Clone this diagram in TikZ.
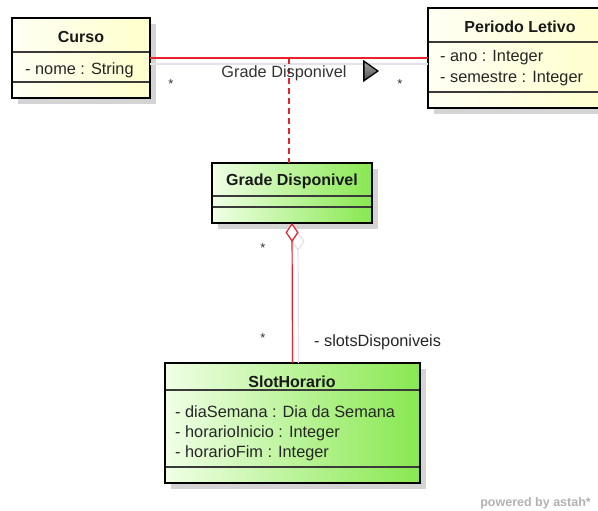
\documentclass[tikz,border=0pt]{standalone}
\usepackage{fontspec}
\setmainfont{Liberation Sans}
\usetikzlibrary{arrows.meta, shapes.geometric}

\definecolor{umlred}{HTML}{E8212B}
\definecolor{paleline}{HTML}{E6E0EA}
\definecolor{boxshade}{HTML}{D4D4D4}
\definecolor{yelL}{HTML}{FFFFF4}
\definecolor{yelR}{HTML}{FFFFCC}
\definecolor{grnL}{HTML}{F0FFE6}
\definecolor{grnR}{HTML}{88E850}
\definecolor{sepgray}{HTML}{3A3A3A}

\tikzset{
  classbox/.style={draw=black, line width=2.4pt, rectangle, anchor=north west,
    inner sep=0pt, outer sep=0pt},
  yellowfill/.style={left color=yelL, right color=yelR},
  greenfill/.style={left color=grnL, right color=grnR},
  title/.style={font=\fontsize{16}{18}\selectfont\bfseries, inner sep=0pt, text=black!90},
  attr/.style={font=\fontsize{16.3}{18}\selectfont, anchor=west, inner sep=0pt, text=black!85},
  mult/.style={font=\fontsize{13}{14}\selectfont, inner sep=0pt, text=black!80},
  sepline/.style={draw=sepgray, line width=1.2pt},
  assoc/.style={draw=umlred, line width=1.2pt},
  shadowline/.style={draw=paleline, line width=1.2pt},
  boxshadow/.style={fill=boxshade},
}

\begin{document}
\begin{tikzpicture}[x=1pt, y=-1pt]
\useasboundingbox (0,0) rectangle (598,511);

% drop shadows of the class boxes
\fill[boxshadow] (18,24) rectangle (156,104);
\fill[boxshadow] (434,14) rectangle (618,114);
\fill[boxshadow] (218,169) rectangle (378,229);
\fill[boxshadow] (171,369) rectangle (426,489);

% class boxes
\node[classbox, yellowfill, minimum width=138pt, minimum height=80pt] (curso) at (12,18) {};
\node[classbox, yellowfill, minimum width=184pt, minimum height=100pt] (periodo) at (428,8) {};
\node[classbox, greenfill, minimum width=160pt, minimum height=60pt] (grade) at (212,163) {};
\node[classbox, greenfill, minimum width=255pt, minimum height=120pt] (slot) at (165,363) {};

% compartment separators
\draw[sepline] (12,52) -- (150,52);
\draw[sepline] (12,82) -- (150,82);
\draw[sepline] (428,42) -- (612,42);
\draw[sepline] (428,92) -- (612,92);
\draw[sepline] (212,196) -- (372,196);
\draw[sepline] (212,207) -- (372,207);
\draw[sepline] (165,390) -- (420,390);
\draw[sepline] (165,467) -- (420,467);

% redraw the outer borders over the separators
\draw[line width=2.4pt] (curso.north west) rectangle (curso.south east);
\draw[line width=2.4pt] (periodo.north west) rectangle (periodo.south east);
\draw[line width=2.4pt] (grade.north west) rectangle (grade.south east);
\draw[line width=2.4pt] (slot.north west) rectangle (slot.south east);

% class names
\node[title] (cursoT) at (81,37) {Curso};
\node[title] (periodoT) at (520,27) {Periodo Letivo};
\node[title] (gradeT) at (292,181) {Grade Disponivel};
\node[title] (slotT) at (292,382) {SlotHorario};

% attributes
\node[attr] (a1) at (25,70) {- nome : String};
\node[attr] (a2) at (440,58) {- ano : Integer};
\node[attr] (a3) at (440,79) {- semestre : Integer};
\node[attr] (a4) at (175,412) {- diaSemana : Dia da Semana};
\node[attr] (a5) at (175,433) {- horarioInicio : Integer};
\node[attr] (a6) at (175,453) {- horarioFim : Integer};

% association Curso -- Periodo Letivo
\draw[shadowline] ([yshift=-6pt]curso.east) -- ([yshift=-6pt]periodo.west);
\draw[assoc] (curso.east) -- (periodo.west);
\coordinate (ac) at (289,58);
\draw[assoc, dash pattern=on 6pt off 4pt] (ac) -- (ac |- grade.north);

\node[attr, anchor=center, text=black!80] (alabel) at (284,73) {Grade Disponivel};
\node[draw=black, line width=1.3pt, isosceles triangle, shading=axis, top color=black!35,
  bottom color=black!70, inner sep=0pt, minimum height=14pt, minimum width=14pt,
  isosceles triangle apex angle=70] (dir) at (369,71) {};

\node[mult] (m1) at (171,84) {*};
\node[mult] (m2) at (400,84) {*};

% aggregation Grade Disponivel <>-- SlotHorario
\draw[draw=paleline, line width=1.2pt, {Diamond[fill=white, length=19pt, width=13pt]}-]
  ([shift={(6pt,-9pt)}]grade.south) -- ([shift={(6pt,0pt)}]slot.north);
\draw[assoc, {Diamond[fill=white, length=19pt, width=13pt]}-] (grade.south) -- (slot.north);

\node[mult] (m3) at (263,248) {*};
\node[mult] (m4) at (263,338) {*};
\node[attr] (role) at (314,342) {- slotsDisponiveis};

% tool mark
\node[font=\fontsize{12.5}{14}\selectfont\bfseries, text=black!30, inner sep=0pt,
  anchor=east] (powered) at (591,503) {powered by astah*};
\end{tikzpicture}
\end{document}
